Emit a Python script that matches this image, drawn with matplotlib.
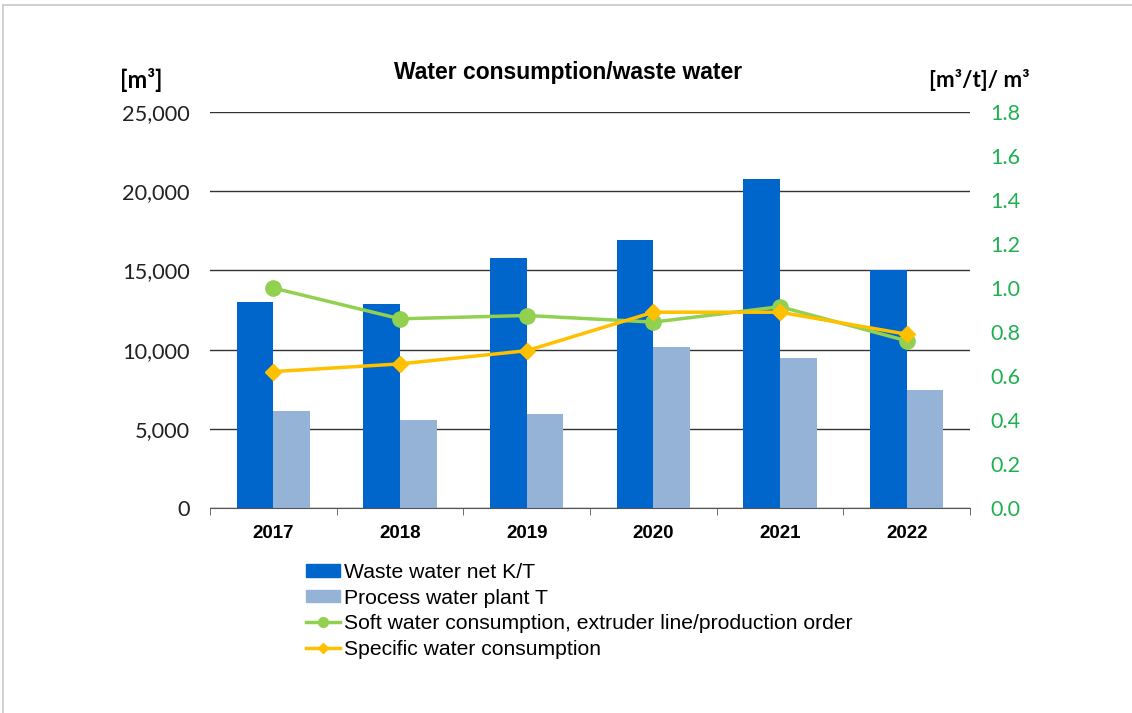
import numpy as np
import matplotlib
matplotlib.use("Agg")
import matplotlib.pyplot as plt
from matplotlib.lines import Line2D

years = ["2017", "2018", "2019", "2020", "2021", "2022"]
waste_water = [13000, 12900, 15800, 16900, 20800, 15050]
process_water = [6150, 5550, 5950, 10150, 9500, 7450]
soft_water = [1.0, 0.86, 0.875, 0.845, 0.915, 0.76]
specific_water = [0.62, 0.655, 0.715, 0.89, 0.89, 0.79]

blue = "#0066CC"
light_blue = "#95B3D7"
green = "#92D050"
yellow = "#FFC000"
green_text = "#1FB050"

fig = plt.figure(figsize=(11.32, 7.13), dpi=100)
ax = fig.add_axes([210 / 1132, 1 - 508 / 713, 760 / 1132, 396 / 713])

x = np.arange(len(years))
w = 0.29
ax.bar(x - w / 2, waste_water, w, color=blue, zorder=2)
ax.bar(x + w / 2, process_water, w, color=light_blue, zorder=2)

ax.set_xlim(-0.5, len(years) - 0.5)
ax.set_ylim(0, 25000)
ax.set_yticks(range(0, 25001, 5000))
ax.set_yticklabels([f"{v:,}" for v in range(0, 25001, 5000)],
                   fontsize=15.7, color="#222222", family="Lato")
ax.yaxis.grid(True, color="#333333", linewidth=1.0, zorder=0)
ax.set_axisbelow(True)
ax.tick_params(axis="y", length=0, pad=14.5)
ax.set_xticks(x)
ax.set_xticklabels(years, fontsize=13.5, fontweight="bold", family="Liberation Sans")
ax.set_xticks(np.arange(-0.5, len(years)), minor=True)
ax.tick_params(axis="x", which="major", length=0, pad=12)
ax.tick_params(axis="x", which="minor", length=5, color="#555555")
for s in ["top", "left", "right"]:
    ax.spines[s].set_visible(False)
ax.spines["bottom"].set_color("#555555")

ax2 = ax.twinx()
ax2.plot(x, soft_water, color=green, linewidth=2.5, marker="o", markersize=11, zorder=3)
ax2.plot(x, specific_water, color=yellow, linewidth=2.5, marker="D", markersize=8, zorder=4)
ax2.set_ylim(0, 1.8)
ax2.set_yticks(np.arange(0, 1.81, 0.2))
ax2.set_yticklabels([f"{v:.1f}" for v in np.arange(0, 1.81, 0.2)],
                    fontsize=15.5, color=green_text, family="Lato")
ax2.tick_params(axis="y", length=0, pad=14.5)
for s in ["top", "left", "right", "bottom"]:
    ax2.spines[s].set_visible(False)

fig.text(568 / 1132, 1 - 72 / 713, "Water consumption/waste water", ha="center", va="center",
         fontsize=16.5, fontweight="bold", family="Liberation Sans")
fig.text(120 / 1132, 1 - 80 / 713, "[m³]", ha="left", va="center",
         fontsize=17, fontweight="bold", family="Lato")
fig.text(1030 / 1132, 1 - 80 / 713, "[m³/t]/ m³", ha="right", va="center",
         fontsize=16, fontweight="bold", family="Lato")

handles = [
    plt.Rectangle((0, 0), 1, 1, color=blue),
    plt.Rectangle((0, 0), 1, 1, color=light_blue),
    Line2D([], [], color=green, linewidth=2.5, marker="o", markersize=7),
    Line2D([], [], color=yellow, linewidth=2.5, marker="D", markersize=5),
]
labels = ["Waste water net K/T", "Process water plant T",
          "Soft water consumption, extruder line/production order",
          "Specific water consumption"]
fig.legend(handles, labels, loc="upper left", bbox_to_anchor=(306 / 1132, 1 - 563 / 713),
           frameon=False, prop={"family": "Liberation Sans", "size": 15.2},
           handlelength=1.6, handleheight=0.55, handletextpad=0.2, labelspacing=0.31,
           borderaxespad=0, borderpad=0)

fig.add_artist(Line2D([3 / 1132, 1], [1 - 5 / 713, 1 - 5 / 713], color="#C8C8C8", linewidth=1.2))
fig.add_artist(Line2D([3 / 1132, 3 / 1132], [0, 1 - 5 / 713], color="#C8C8C8", linewidth=1.2))

fig.savefig("out.png", dpi=100)
